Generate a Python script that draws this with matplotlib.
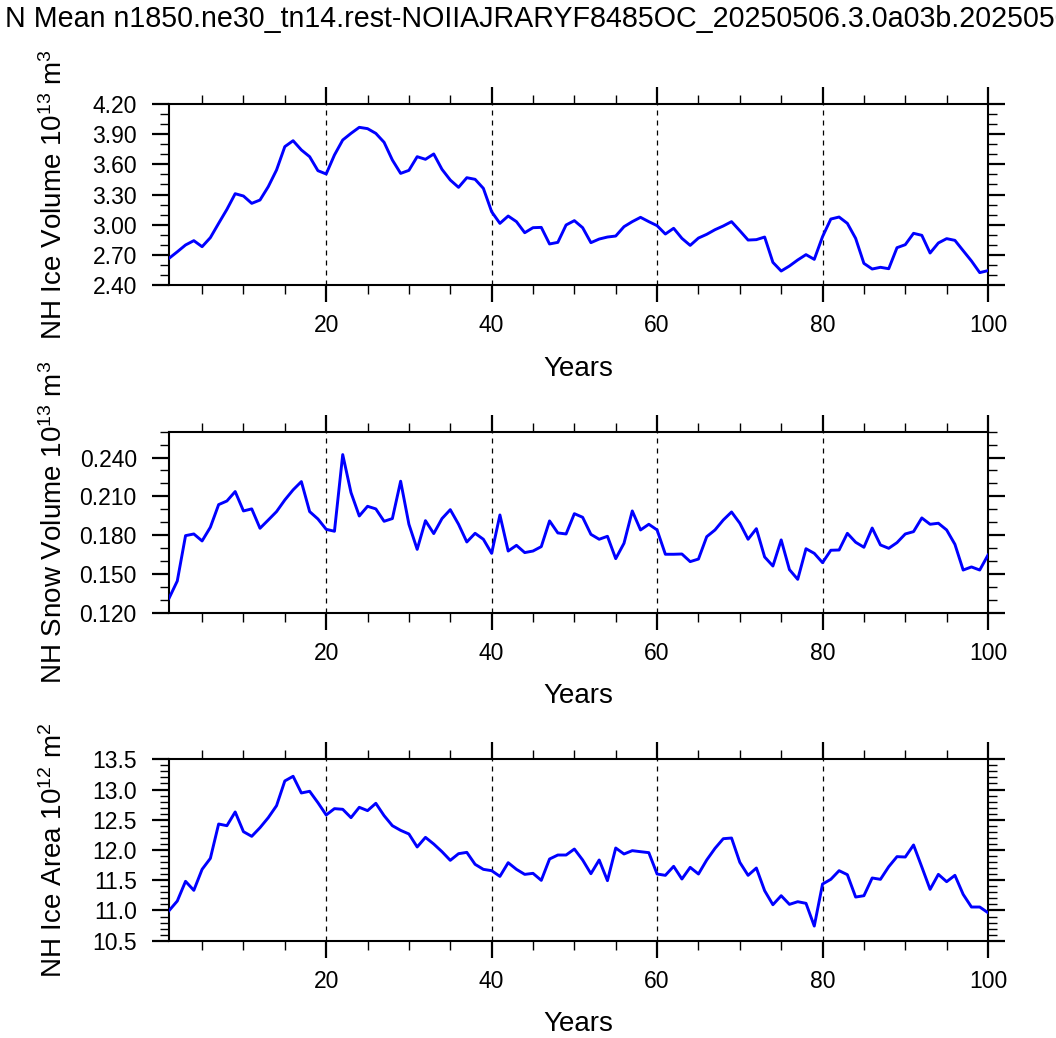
import matplotlib
matplotlib.use("Agg")
import matplotlib.pyplot as plt
from matplotlib.ticker import MultipleLocator, FormatStrFormatter
import numpy as np

plt.rcParams['font.family'] = ['Liberation Sans', 'DejaVu Sans']
plt.rcParams['mathtext.fontset'] = 'custom'
plt.rcParams['mathtext.rm'] = 'Liberation Sans'
plt.rcParams['mathtext.it'] = 'Liberation Sans'
plt.rcParams['mathtext.bf'] = 'Liberation Sans'

title = "N Mean n1850.ne30_tn14.rest-NOIIAJRARYF8485OC_20250506.3.0a03b.20250506"
years = np.arange(1, 101)

ice_volume = [2.665, 2.73, 2.798, 2.841, 2.781, 2.871, 3.013, 3.152, 3.308, 3.285,
              3.212, 3.245, 3.378, 3.544, 3.776, 3.835, 3.743, 3.676, 3.537, 3.504,
              3.693, 3.842, 3.908, 3.968, 3.955, 3.908, 3.819, 3.643, 3.510, 3.540,
              3.676, 3.650, 3.703, 3.550, 3.444, 3.371, 3.467, 3.451, 3.361, 3.129,
              3.013, 3.086, 3.030, 2.920, 2.970, 2.973, 2.808, 2.824, 2.997, 3.040,
              2.970, 2.821, 2.857, 2.877, 2.887, 2.980, 3.030, 3.073, 3.030, 2.990,
              2.907, 2.964, 2.864, 2.794, 2.867, 2.904, 2.950, 2.987, 3.030, 2.940,
              2.847, 2.851, 2.877, 2.625, 2.539, 2.589, 2.649, 2.702, 2.655, 2.881,
              3.056, 3.076, 3.013, 2.864, 2.615, 2.559, 2.576, 2.562, 2.771, 2.801,
              2.914, 2.894, 2.718, 2.818, 2.861, 2.844, 2.741, 2.639, 2.523, 2.543]

snow_volume = [0.1311, 0.1445, 0.1796, 0.1809, 0.1755, 0.1861, 0.2036, 0.2064, 0.2137, 0.1987,
               0.2003, 0.1853, 0.1917, 0.1982, 0.2072, 0.2150, 0.2214, 0.1982, 0.1925, 0.1845,
               0.1830, 0.2423, 0.2129, 0.1948, 0.2023, 0.2003, 0.1907, 0.1928, 0.2217, 0.1884,
               0.1690, 0.1912, 0.1812, 0.1928, 0.1997, 0.1884, 0.1747, 0.1814, 0.1768, 0.1659,
               0.1956, 0.1677, 0.1721, 0.1665, 0.1677, 0.1711, 0.1910, 0.1817, 0.1809, 0.1966,
               0.1938, 0.1806, 0.1768, 0.1791, 0.1618, 0.1737, 0.1987, 0.1840, 0.1884, 0.1840,
               0.1652, 0.1652, 0.1654, 0.1595, 0.1615, 0.1788, 0.1840, 0.1917, 0.1979, 0.1892,
               0.1768, 0.1850, 0.1631, 0.1561, 0.1763, 0.1533, 0.1458, 0.1695, 0.1659, 0.1587,
               0.1683, 0.1685, 0.1814, 0.1745, 0.1706, 0.1855, 0.1724, 0.1698, 0.1742, 0.1809,
               0.1827, 0.1933, 0.1884, 0.1892, 0.1840, 0.1729, 0.1530, 0.1554, 0.1530, 0.1646]

ice_area = [10.996, 11.156, 11.482, 11.333, 11.680, 11.862, 12.430, 12.402, 12.629, 12.303,
            12.226, 12.369, 12.535, 12.733, 13.142, 13.219, 12.943, 12.971, 12.783, 12.579,
            12.684, 12.673, 12.535, 12.706, 12.651, 12.772, 12.568, 12.402, 12.325, 12.265,
            12.050, 12.209, 12.099, 11.972, 11.829, 11.939, 11.961, 11.763, 11.680, 11.658,
            11.564, 11.790, 11.680, 11.597, 11.614, 11.498, 11.851, 11.917, 11.917, 12.016,
            11.835, 11.608, 11.835, 11.493, 12.033, 11.934, 11.989, 11.972, 11.956, 11.603,
            11.581, 11.730, 11.520, 11.713, 11.603, 11.835, 12.027, 12.187, 12.198, 11.796,
            11.581, 11.702, 11.327, 11.095, 11.244, 11.101, 11.145, 11.118, 10.742, 11.437,
            11.515, 11.658, 11.592, 11.222, 11.244, 11.537, 11.515, 11.724, 11.890, 11.884,
            12.083, 11.719, 11.349, 11.597, 11.476, 11.581, 11.266, 11.057, 11.057, 10.963]

series = [ice_volume, snow_volume, ice_area]
ylabels = [r"NH Ice Volume 10$^{13}$ m$^{3}$",
           r"NH Snow Volume 10$^{13}$ m$^{3}$",
           r"NH Ice Area 10$^{12}$ m$^{2}$"]
xlabel = "Years"
ylims = [(2.4, 4.2), (0.12, 0.26), (10.5, 13.5)]
ymajor = [0.3, 0.03, 0.5]
yminor = [0.1, 0.01, 0.1]
yfmt = ["%.2f", "%.3f", "%.1f"]
vlines = [20, 40, 60, 80]

W, H = 1056, 1038
fig = plt.figure(figsize=(W / 100, H / 100), dpi=100)

left_px, right_px = 169, 988
tops = [104, 431.7, 759.3]
bottoms = [285, 612.7, 940.7]

for i in range(3):
    ax = fig.add_axes([left_px / W, 1 - bottoms[i] / H,
                       (right_px - left_px) / W, (bottoms[i] - tops[i]) / H])
    ax.plot(years, series[i], color=(0, 0, 1), lw=2.1, zorder=3)
    for v in vlines:
        ax.axvline(v, color='black', lw=0.9, ls=(0, (4, 4)), zorder=2)
    ax.set_xlim(1, 100)
    ax.set_ylim(*ylims[i])
    ax.xaxis.set_major_locator(MultipleLocator(20))
    ax.xaxis.set_minor_locator(MultipleLocator(5))
    ax.yaxis.set_major_locator(MultipleLocator(ymajor[i]))
    ax.yaxis.set_minor_locator(MultipleLocator(yminor[i]))
    ax.yaxis.set_major_formatter(FormatStrFormatter(yfmt[i]))
    for s in ax.spines.values():
        s.set_linewidth(1.5)
    ax.tick_params(which='both', direction='out', top=True, right=True,
                   labeltop=False, labelright=False, labelsize=16.5)
    ax.tick_params(which='major', length=12.2, width=1.6)
    ax.tick_params(which='minor', length=6.2, width=1.0)
    ax.tick_params(axis='x', which='major', pad=9)
    ax.tick_params(axis='y', which='major', pad=11)
    ax.set_xlabel(xlabel, fontsize=20, labelpad=13)
    ax.set_ylabel(ylabels[i], fontsize=20, va='baseline')
    ax.yaxis.set_label_coords((62 - left_px) / (right_px - left_px), 0.5)

fig.text(5 / W, 1 - 27 / H, title, fontsize=20.6, ha='left', va='baseline')

fig.savefig("out.png", dpi=100)
